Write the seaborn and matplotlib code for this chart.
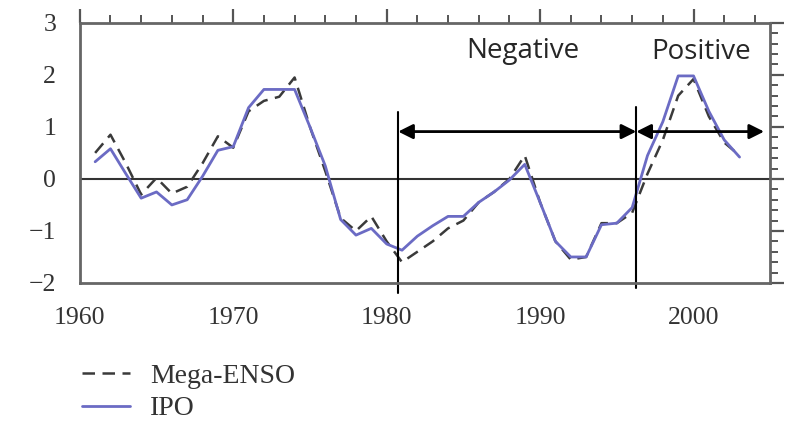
import numpy as np
import pandas as pd
import matplotlib.pyplot as plt
import seaborn as sns
from matplotlib.ticker import MultipleLocator

years = list(range(1961, 2004))
ipo = [0.33, 0.58, 0.10, -0.37, -0.25, -0.50, -0.40, 0.05, 0.55, 0.62,
       1.37, 1.72, 1.72, 1.72, 1.00, 0.25, -0.78, -1.08, -0.95, -1.25,
       -1.37, -1.10, -0.90, -0.72, -0.72, -0.45, -0.25, -0.02, 0.28, -0.45,
       -1.20, -1.50, -1.50, -0.88, -0.85, -0.55, 0.45, 1.10, 1.98, 1.98,
       1.30, 0.75, 0.42]
mega_enso = [0.50, 0.85, 0.30, -0.30, 0.02, -0.28, -0.15, 0.30, 0.82, 0.60,
             1.30, 1.50, 1.58, 1.95, 1.00, 0.15, -0.75, -1.00, -0.72, -1.20,
             -1.60, -1.40, -1.20, -0.95, -0.80, -0.45, -0.25, 0.00, 0.45, -0.45,
             -1.20, -1.55, -1.50, -0.85, -0.85, -0.65, 0.10, 0.75, 1.60, 1.92,
             1.20, 0.70, 0.45]

# phase boundaries (years) and labels
phase_edges = [1980.75, 1996.27, 2004.6]
phase_labels = ['Negative', 'Positive']

df = pd.DataFrame({'year': years, 'IPO': ipo, 'Mega-ENSO': mega_enso})

sns.set_style("white")
plt.rcParams['font.family'] = ['Liberation Serif', 'DejaVu Serif']

fig = plt.figure(figsize=(7.9, 4.23), dpi=100)
ax = fig.add_axes([0.101, 0.331, 0.874, 0.615])

sns.lineplot(data=df, x='year', y='Mega-ENSO', ax=ax, color='#3a3a3a',
             linestyle=(0, (5, 3)), linewidth=1.8, label='Mega-ENSO')
sns.lineplot(data=df, x='year', y='IPO', ax=ax, color='#6b6bc4',
             linewidth=2, label='IPO')

ax.axhline(0, color='#333333', linewidth=1.5, zorder=1)

ax.set_xlim(1960, 2005)
ax.set_ylim(-2, 3)
ax.xaxis.set_major_locator(MultipleLocator(10))
ax.xaxis.set_minor_locator(MultipleLocator(2))
ax.yaxis.set_major_locator(MultipleLocator(1))
ax.yaxis.set_minor_locator(MultipleLocator(0.2))
ax.tick_params(which='both', direction='out', top=True, right=True,
               colors='#555555', labelcolor='#333333', labelsize=18.5)
ax.tick_params(which='major', length=10, width=1.6)
ax.tick_params(which='minor', length=5.5, width=1.4)
ax.tick_params(axis='x', which='major', pad=7)
ax.tick_params(axis='y', which='major', pad=7)
ax.tick_params(labelright=False, labeltop=False)
for s in ax.spines.values():
    s.set_color('#666666')
    s.set_linewidth(2)
ax.set_xlabel('')
ax.set_ylabel('')

# vertical dividers and arrows
ax.plot([phase_edges[0]] * 2, [1.28, -2.2], color='black', lw=1.5, clip_on=False)
ax.plot([phase_edges[1]] * 2, [1.39, -2.09], color='black', lw=1.5, clip_on=False)
for i, lab in enumerate(phase_labels):
    ax.annotate('', xy=(phase_edges[i], 0.91), xytext=(phase_edges[i + 1], 0.91),
                arrowprops=dict(arrowstyle='<|-|>', color='black', lw=2,
                                mutation_scale=22, shrinkA=0, shrinkB=0))
ax.text(1988.9, 2.46, phase_labels[0], ha='center', va='center',
        fontsize=20, family=['Open Sans', 'DejaVu Sans'])
ax.text(2000.5, 2.44, phase_labels[1], ha='center', va='center',
        fontsize=20, family=['Open Sans', 'DejaVu Sans'])

handles, labels = ax.get_legend_handles_labels()
ax.get_legend().remove()
fig.legend(handles, labels, loc='upper left', bbox_to_anchor=(0.072, 0.2),
           frameon=False, fontsize=20, handlelength=1.73, labelspacing=0.25,
           handletextpad=0.72, labelcolor='#333333')

plt.savefig('out.png', dpi=100)
